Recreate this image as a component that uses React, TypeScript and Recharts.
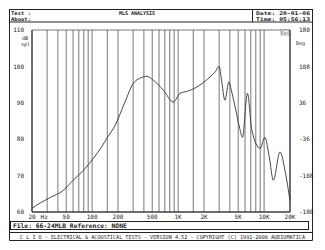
import React from "react";
import { LineChart, Line, XAxis, YAxis, CartesianGrid } from "recharts";

const freqs = [20, 25, 32, 46, 60, 79, 103, 129, 148, 185, 241, 301, 394, 431, 515, 673, 880, 1050, 1200, 1400, 1900, 2350, 2700, 3000, 3200, 3500, 3900, 4150, 4600, 5200, 5600, 6400, 7200, 9000, 10200, 11500, 12800, 15300, 17500, 20000];
const splDb = [61, 62.5, 63.9, 65.9, 68.7, 71.4, 74.7, 77.9, 80.2, 83.8, 90.2, 95.3, 97.1, 97.3, 96.2, 93.5, 90.2, 92.6, 93.0, 93.5, 95.3, 97.1, 98.5, 100.0, 96.2, 90.7, 95.8, 93.5, 88.9, 83, 80.5, 92.6, 82.5, 77.5, 80.5, 75, 68.7, 76.5, 71.4, 63];

const gridFreqs = [20, 30, 40, 50, 60, 70, 80, 90, 100, 150, 200, 300, 400, 500, 600, 700, 800, 900, 1000, 1500, 2000, 3000, 4000, 5000, 6000, 7000, 8000, 9000, 10000, 20000];
const freqLabels: Record<number, string> = { 20: "20", 30: "Hz", 50: "50", 100: "100", 200: "200", 500: "500", 1000: "1K", 2000: "2K", 5000: "5K", 10000: "10K", 20000: "20K" };
const dbTicks = [60, 70, 80, 90, 100, 110];
const degTicks = [-180, -108, -36, 36, 108, 180];

const data = freqs.map((f, i) => ({ f, spl: splDb[i] }));

const FONT = "'DejaVu Sans Mono', monospace";

const XTick = (props: any) => {
  const { x, y, payload } = props;
  const lab = freqLabels[payload.value];
  if (!lab) return null;
  return (
    <text x={x} y={y} dy={-1} textAnchor="middle" fontSize={6} fontFamily={FONT} fill="#222" dx={lab === "Hz" ? -3 : 0}>
      {lab}
    </text>
  );
};

export default function App() {
  return (
    <div style={{ position: "relative", width: 325, height: 250, background: "#fff" }}>
      <style>{`body{margin:0;background:#fff}`}</style>
      <LineChart width={325} height={250} data={data} margin={{ top: 30, right: 5, left: 8, bottom: 28 }}>
        <CartesianGrid stroke="#555" strokeWidth={0.8} />
        <XAxis
          dataKey="f"
          type="number"
          scale="log"
          domain={[20, 20000]}
          ticks={gridFreqs}
          interval={0}
          allowDataOverflow
          height={10}
          tick={<XTick />}
          tickLine={false}
          axisLine={{ stroke: "#222" }}
        />
        <YAxis
          yAxisId="db"
          domain={[60, 110]}
          ticks={dbTicks}
          interval={0}
          width={24}
          tickLine={false}
          axisLine={{ stroke: "#222" }}
          tick={{ fontSize: 6, fontFamily: FONT, fill: "#222" }}
          tickMargin={2}
        />
        <YAxis
          yAxisId="deg"
          orientation="right"
          domain={[-180, 180]}
          ticks={degTicks}
          interval={0}
          allowDataOverflow
          width={30}
          tickLine={false}
          axisLine={{ stroke: "#222" }}
          tick={{ fontSize: 6, fontFamily: FONT, fill: "#222" }}
          tickMargin={3}
        />
        <Line yAxisId="db" dataKey="spl" type="monotone" stroke="#333" strokeWidth={0.9} dot={false} isAnimationActive={false} />
        <Line yAxisId="deg" dataKey="phase" stroke="none" dot={false} isAnimationActive={false} legendType="none" />
      </LineChart>
      <svg width={325} height={250} style={{ position: "absolute", left: 0, top: 0, pointerEvents: "none" }} fontFamily={FONT}>
        <rect x={9.5} y={9.5} width={303} height={12.5} fill="none" stroke="#222" />
        <line x1={252.5} y1={9.5} x2={252.5} y2={22} stroke="#222" />
        <text x={11} y={14.6} fontSize={5} fontWeight="bold" fill="#222" textLength={20} lengthAdjust="spacingAndGlyphs">Test :</text>
        <text x={11} y={20.8} fontSize={5} fontWeight="bold" fill="#222" textLength={20} lengthAdjust="spacingAndGlyphs">About:</text>
        <text x={137} y={14.6} fontSize={5} fontWeight="bold" fill="#222" textAnchor="middle">MLS ANALYSIS</text>
        <text x={256} y={14.6} fontSize={5} fontWeight="bold" fill="#222" textLength={54} lengthAdjust="spacingAndGlyphs">Date: 20-01-06</text>
        <text x={256} y={20.8} fontSize={5} fontWeight="bold" fill="#222" textLength={54} lengthAdjust="spacingAndGlyphs">Time: 05:56:13</text>
        <line x1={9.5} y1={22} x2={9.5} y2={240.5} stroke="#222" />
        <line x1={312.5} y1={22} x2={312.5} y2={240.5} stroke="#222" />
        <line x1={9.5} y1={240.5} x2={312.5} y2={240.5} stroke="#222" />
        <line x1={9.5} y1={232.5} x2={312.5} y2={232.5} stroke="#222" />
        <text x={22} y={40} fontSize={5} fill="#222">dB</text>
        <text x={21} y={46} fontSize={5} fill="#222">spl</text>
        <text x={296} y={45} fontSize={5} fill="#222">Deg</text>
        <rect x={281} y={30} width={8} height={5} fill="#fff" stroke="#555" strokeWidth={0.5} />
        <text x={285} y={34} fontSize={4} fill="#222" textAnchor="middle">Cur</text>
        <rect x={10.5} y={221.5} width={298} height={8} fill="none" stroke="#222" />
        <text x={13} y={228} fontSize={6.3} fontWeight="bold" fill="#222">File: 66-24MLB Reference: NONE</text>
        <text x={20} y={238.5} fontSize={5.5} fill="#222" textLength={285} lengthAdjust="spacingAndGlyphs">C L I O  -  ELECTRICAL &amp; ACOUSTICAL TESTS  -  VERSION 4.52  -  COPYRIGHT (C) 1991-2000 AUDIOMATICA</text>
      </svg>
    </div>
  );
}
